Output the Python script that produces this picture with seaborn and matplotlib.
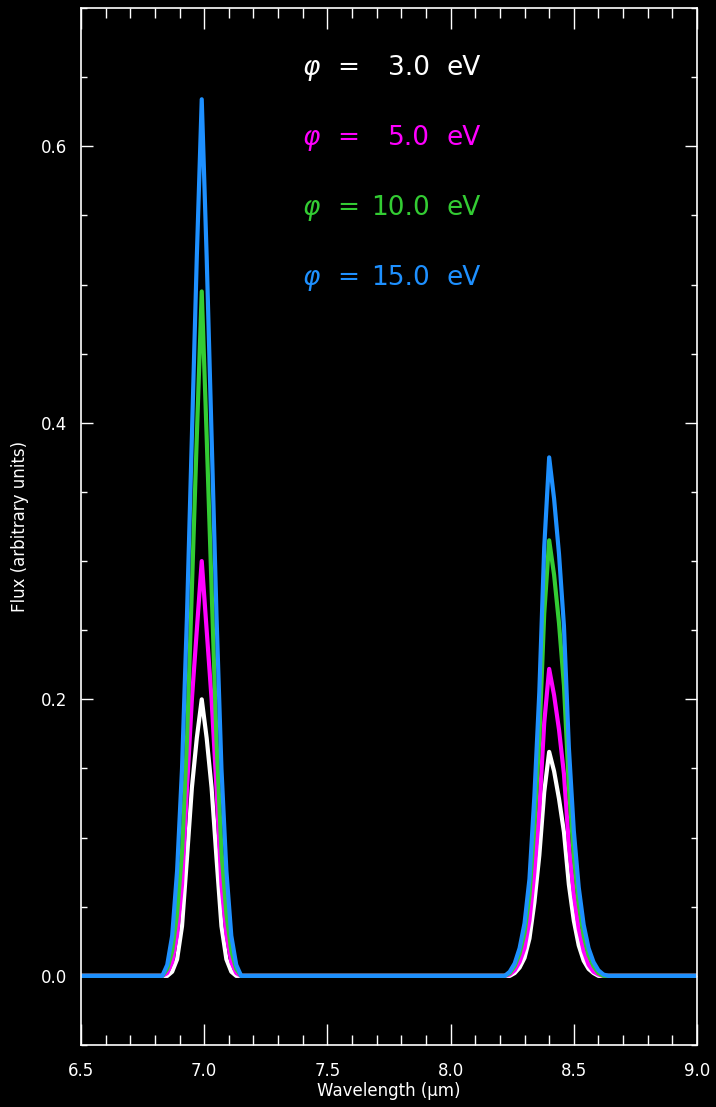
import matplotlib
matplotlib.use("Agg")
import matplotlib.pyplot as plt
from matplotlib.ticker import MultipleLocator, FormatStrFormatter
import pandas as pd
import seaborn as sns

# wavelength grid (micron) shared by all four spectra
wavelength = [6.50,
              6.83, 6.85, 6.87, 6.89, 6.91, 6.93, 6.95, 6.97, 6.99,
              7.01, 7.03, 7.05, 7.07, 7.09, 7.11, 7.13, 7.15,
              8.22, 8.24, 8.26, 8.28, 8.30, 8.32, 8.34, 8.36, 8.38, 8.40,
              8.42, 8.44, 8.46, 8.48, 8.50, 8.52, 8.54, 8.56, 8.58, 8.60,
              8.62, 8.64,
              9.00]

flux_3ev = [0.0,
            0.0, 0.0, 0.003, 0.012, 0.036, 0.085, 0.136, 0.172, 0.200,
            0.172, 0.136, 0.085, 0.036, 0.012, 0.003, 0.0, 0.0,
            0.0, 0.0, 0.002, 0.006, 0.013, 0.027, 0.053, 0.087, 0.133, 0.162,
            0.148, 0.128, 0.104, 0.066, 0.040, 0.022, 0.011, 0.005, 0.002, 0.0,
            0.0, 0.0,
            0.0]

flux_5ev = [0.0,
            0.0, 0.002, 0.010, 0.030, 0.066, 0.135, 0.200, 0.250, 0.300,
            0.250, 0.200, 0.135, 0.066, 0.030, 0.010, 0.002, 0.0,
            0.0, 0.001, 0.004, 0.010, 0.020, 0.040, 0.075, 0.120, 0.183, 0.222,
            0.203, 0.178, 0.146, 0.095, 0.059, 0.034, 0.018, 0.008, 0.003, 0.001,
            0.0, 0.0,
            0.0]

flux_10ev = [0.0,
             0.0, 0.005, 0.018, 0.045, 0.090, 0.170, 0.280, 0.390, 0.495,
             0.390, 0.280, 0.170, 0.090, 0.045, 0.018, 0.005, 0.0,
             0.0, 0.002, 0.007, 0.016, 0.031, 0.058, 0.108, 0.172, 0.262, 0.315,
             0.290, 0.255, 0.210, 0.137, 0.087, 0.052, 0.029, 0.015, 0.007, 0.002,
             0.0, 0.0,
             0.0]

flux_15ev = [0.0,
             0.0, 0.008, 0.029, 0.076, 0.150, 0.260, 0.390, 0.520, 0.634,
             0.520, 0.390, 0.260, 0.150, 0.076, 0.029, 0.008, 0.0,
             0.0, 0.003, 0.009, 0.020, 0.038, 0.070, 0.130, 0.205, 0.310, 0.375,
             0.345, 0.305, 0.253, 0.165, 0.105, 0.064, 0.037, 0.020, 0.010, 0.004,
             0.001, 0.0,
             0.0]

phi_values = ["3.0", "5.0", "10.0", "15.0"]
line_colors = ["#ffffff", "#ff00ff", "#33cc33", "#1e90ff"]

sns.set_style("ticks", {
    "axes.facecolor": "black",
    "figure.facecolor": "black",
    "axes.edgecolor": "white",
    "axes.labelcolor": "white",
    "text.color": "white",
    "xtick.color": "white",
    "ytick.color": "white",
})
plt.rcParams["font.family"] = ["DejaVu Sans"]

df = pd.DataFrame({
    "wavelength": wavelength * 4,
    "flux": flux_3ev + flux_5ev + flux_10ev + flux_15ev,
    "phi": [p for p in phi_values for _ in wavelength],
})

W, H = 716, 1107
fig = plt.figure(figsize=(W / 100, H / 100), dpi=100, facecolor="black")
ax = fig.add_axes([81 / W, 1 - 1045 / H, 616 / W, 1037 / H])
ax.set_facecolor("black")

sns.lineplot(data=df, x="wavelength", y="flux", hue="phi",
             hue_order=phi_values, palette=line_colors,
             sort=False, estimator=None, lw=3, legend=False, ax=ax)

ax.set_xlim(6.5, 9.0)
ax.set_ylim(-0.05, 0.7)
ax.xaxis.set_major_locator(MultipleLocator(0.5))
ax.xaxis.set_minor_locator(MultipleLocator(0.1))
ax.yaxis.set_major_locator(MultipleLocator(0.2))
ax.yaxis.set_minor_locator(MultipleLocator(0.05))
ax.xaxis.set_major_formatter(FormatStrFormatter("%.1f"))
ax.yaxis.set_major_formatter(FormatStrFormatter("%.1f"))

ax.tick_params(which="both", direction="in", top=True, right=True,
               color="white", width=1, labelsize=12)
ax.tick_params(axis="x", which="major", length=15, pad=12)
ax.tick_params(axis="x", which="minor", length=7.2)
ax.tick_params(axis="y", which="major", length=8.6, pad=10)
ax.tick_params(axis="y", which="minor", length=4.3)
for sp in ax.spines.values():
    sp.set_color("white")
    sp.set_linewidth(1.2)

ax.set_xlabel("Wavelength (μm)", fontsize=12, color="white")
ax.set_ylabel("Flux (arbitrary units)", fontsize=12, color="white")
ax.xaxis.set_label_coords(0.5, -0.036)
ax.yaxis.set_label_coords(-0.085, 0.5)

# phi legend written as coloured text rows
row_y = [68, 138, 208, 278]
for val, col, y in zip(phi_values, line_colors, row_y):
    fy = 1 - y / H
    fig.text(303 / W, fy, "φ", color=col, fontsize=19, style="italic",
             ha="left", va="center")
    fig.text(337 / W, fy, "=", color=col, fontsize=19, ha="left", va="center")
    fig.text(430 / W, fy, val, color=col, fontsize=19, ha="right", va="center")
    fig.text(446 / W, fy, "eV", color=col, fontsize=19, ha="left", va="center")

fig.savefig("out.png", dpi=100, facecolor="black")
